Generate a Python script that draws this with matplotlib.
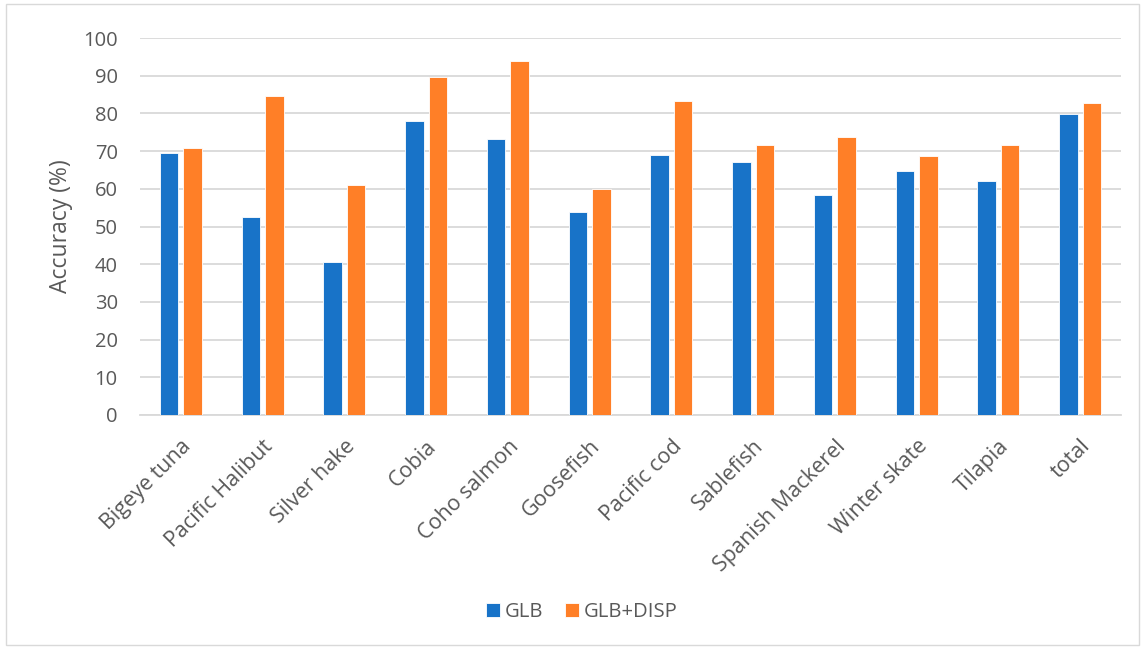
import matplotlib
matplotlib.use("Agg")
import matplotlib.pyplot as plt
import numpy as np
from matplotlib.patches import Rectangle

categories = ["Bigeye tuna", "Pacific Halibut", "Silver hake", "Cobia", "Coho salmon",
              "Goosefish", "Pacific cod", "Sablefish", "Spanish Mackerel", "Winter skate",
              "Tilapia", "total"]
glb = [69.4, 52.5, 40.6, 78.1, 73.3, 53.8, 68.9, 67.0, 58.4, 64.8, 62.0, 79.9]
glb_disp = [70.9, 84.5, 61.1, 89.7, 94.0, 59.9, 83.4, 71.7, 73.7, 68.8, 71.7, 82.7]
yticks = [0, 10, 20, 30, 40, 50, 60, 70, 80, 90, 100]

plt.rcParams['font.family'] = ['Open Sans', 'DejaVu Sans']
txt = '#595959'

fig = plt.figure(figsize=(11.43, 6.49), dpi=100)
ax = fig.add_axes([140/1143, 1-415/649, (1121-140)/1143, (415-38)/649])

x = np.arange(len(categories))
w = 0.225
off = 0.144
ax.bar(x - off, glb, w, color='#1873C8', edgecolor='white', linewidth=0.6, label='GLB', zorder=3)
ax.bar(x + off, glb_disp, w, color='#FF7F27', edgecolor='white', linewidth=0.6, label='GLB+DISP', zorder=3)

ax.set_xlim(-0.5, len(categories) - 0.5)
ax.set_ylim(0, 100)
ax.set_yticks(yticks)
ax.set_yticklabels([str(t) for t in yticks], fontsize=14.5, color=txt)
ax.yaxis.grid(True, color='#D9D9D9', linewidth=1.3, zorder=0)
ax.set_axisbelow(True)
ax.tick_params(axis='both', length=0)
ax.tick_params(axis='y', pad=16)
ax.set_xticks(x)
ax.set_xticklabels(categories, rotation=45, ha='right', rotation_mode='anchor',
                   fontsize=15.5, color=txt)
ax.tick_params(axis='x', pad=15)
for s in ['top', 'right', 'left']:
    ax.spines[s].set_visible(False)
ax.spines['bottom'].set_color('#D9D9D9')
ax.spines['bottom'].set_linewidth(1.3)
ax.set_ylabel('Accuracy (%)', fontsize=16.5, color=txt, labelpad=7)

fig.legend(loc='center', bbox_to_anchor=(582/1143, 1-612/649), ncol=2, frameon=False,
           fontsize=14.6, labelcolor=txt, handlelength=0.69, handleheight=0.69,
           handletextpad=0.25, columnspacing=1.05)

fig.patches.append(Rectangle((6/1143, 4/649), (1139-6)/1143, (645-4)/649, transform=fig.transFigure,
                             fill=False, edgecolor='#D9D9D9', linewidth=1.0))

fig.savefig('out.png', dpi=100, facecolor='white')
